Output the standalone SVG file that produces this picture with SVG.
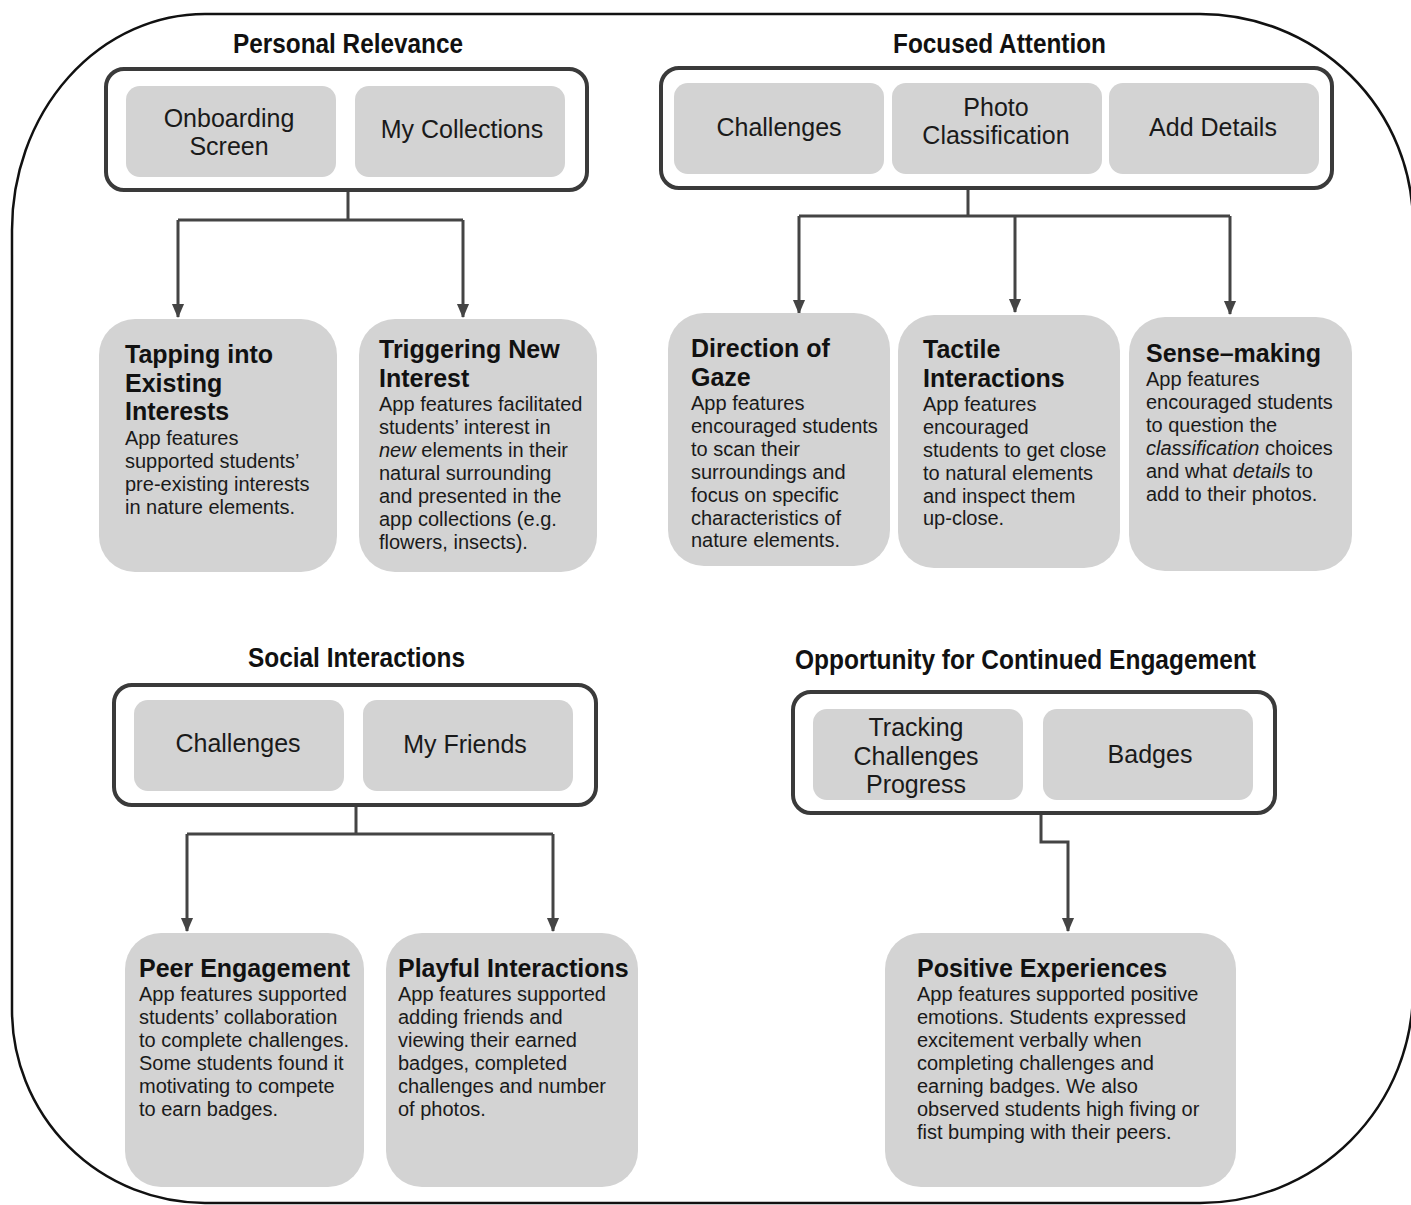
<svg xmlns="http://www.w3.org/2000/svg" width="1411" height="1205" viewBox="0 0 1411 1205">
<style>
.hdr{font-family:"Liberation Sans Narrow","Arial Narrow","Liberation Sans",sans-serif;font-weight:bold;font-size:27px;fill:#111;text-anchor:middle}
.cont{fill:#fff;stroke:#3a3a3a;stroke-width:4}
.feat{fill:#d3d3d3;stroke:none}
.ft{font-family:"Liberation Sans",Arial,sans-serif;font-size:25px;fill:#1a1a1a;text-anchor:middle}
.card{fill:#d3d3d3;stroke:none}
.ct{font-family:"Liberation Sans",Arial,sans-serif;font-size:25px;font-weight:bold;fill:#111}
.cb{font-family:"Liberation Sans",Arial,sans-serif;font-size:20px;fill:#1a1a1a}
.conn{fill:none;stroke:#444;stroke-width:3}
</style>
<defs>
<marker id="ah" markerUnits="userSpaceOnUse" markerWidth="14" markerHeight="16" refX="7" refY="15" orient="auto-start-reverse" viewBox="0 0 14 16">
<path d="M0,0 L14,0 L7,16 Z" fill="#444" transform="rotate(0)"/>
</marker>
<marker id="ad" markerUnits="userSpaceOnUse" markerWidth="14" markerHeight="16" refX="15" refY="7" orient="auto" viewBox="0 0 16 14">
<path d="M0,0 L16,7 L0,14 Z" fill="#444"/>
</marker>
</defs>

<path id="frame" d="M205,14 L1200,14 A213,210 0 0 1 1413,224 L1413,990 A213,213 0 0 1 1200,1203 L205,1203 A193,193 0 0 1 12,1010 L12,230 A193,216 0 0 1 205,14 Z" fill="none" stroke="#111" stroke-width="2.5"/>

<g id="connectors">
<path class="conn" d="M348,190 L348,220 M178,220 L463,220 M178,220 L178,317" marker-end="url(#ad)"/>
<path class="conn" d="M463,220 L463,317" marker-end="url(#ad)"/>
<path class="conn" d="M968,188 L968,216 M799,216 L1230,216 M799,216 L799,313" marker-end="url(#ad)"/>
<path class="conn" d="M1015,216 L1015,312" marker-end="url(#ad)"/>
<path class="conn" d="M1230,216 L1230,314" marker-end="url(#ad)"/>
<path class="conn" d="M356,805 L356,834 M187,834 L553,834 M187,834 L187,931" marker-end="url(#ad)"/>
<path class="conn" d="M553,834 L553,931" marker-end="url(#ad)"/>
<path class="conn" d="M1041,813 L1041,842 L1068,842 L1068,931" marker-end="url(#ad)"/>
</g>

<g id="personal-relevance">
<text class="hdr" x="348" y="53" textLength="230" lengthAdjust="spacingAndGlyphs">Personal Relevance</text>
<rect class="cont" x="106" y="69" width="481" height="121" rx="18"/>
<g id="onboarding-screen"><rect class="feat" x="126" y="86" width="210" height="91" rx="14"/>
<text class="ft" x="229" y="127">Onboarding</text><text class="ft" x="229" y="155">Screen</text></g>
<g id="my-collections"><rect class="feat" x="355" y="86" width="210" height="91" rx="14"/>
<text class="ft" x="462" y="138">My Collections</text></g>
</g>

<g id="tapping">
<rect class="card" x="99" y="319" width="238" height="253" rx="36"/>
<text class="ct" x="125" y="363">Tapping into</text>
<text class="ct" x="125" y="392">Existing</text>
<text class="ct" x="125" y="420">Interests</text>
<text class="cb" x="125" y="445">App features</text>
<text class="cb" x="125" y="468">supported students’</text>
<text class="cb" x="125" y="491">pre-existing interests</text>
<text class="cb" x="125" y="514">in nature elements.</text>
</g>

<g id="triggering">
<rect class="card" x="359" y="319" width="238" height="253" rx="36"/>
<text class="ct" x="379" y="358">Triggering New</text>
<text class="ct" x="379" y="387">Interest</text>
<text class="cb" x="379" y="411">App features facilitated</text>
<text class="cb" x="379" y="434">students’ interest in</text>
<text class="cb" x="379" y="457"><tspan font-style="italic">new</tspan> elements in their</text>
<text class="cb" x="379" y="480">natural surrounding</text>
<text class="cb" x="379" y="503">and presented in the</text>
<text class="cb" x="379" y="526">app collections (e.g.</text>
<text class="cb" x="379" y="549">flowers, insects).</text>
</g>

<g id="focused-attention">
<text class="hdr" x="999.5" y="53" textLength="213" lengthAdjust="spacingAndGlyphs">Focused Attention</text>
<rect class="cont" x="661" y="68" width="671" height="120" rx="18"/>
<g id="fa-challenges"><rect class="feat" x="674" y="83" width="210" height="91" rx="14"/>
<text class="ft" x="779" y="136">Challenges</text></g>
<g id="photo-classification"><rect class="feat" x="892" y="83" width="210" height="91" rx="14"/>
<text class="ft" x="996" y="116">Photo</text><text class="ft" x="996" y="144">Classification</text></g>
<g id="add-details"><rect class="feat" x="1109" y="83" width="210" height="91" rx="14"/>
<text class="ft" x="1213" y="136">Add Details</text></g>
</g>

<g id="direction-of-gaze">
<rect class="card" x="668" y="313" width="222" height="253" rx="36"/>
<text class="ct" x="691" y="357">Direction of</text>
<text class="ct" x="691" y="386">Gaze</text>
<text class="cb" x="691" y="410">App features</text>
<text class="cb" x="691" y="433">encouraged students</text>
<text class="cb" x="691" y="456">to scan their</text>
<text class="cb" x="691" y="479">surroundings and</text>
<text class="cb" x="691" y="502">focus on specific</text>
<text class="cb" x="691" y="525">characteristics of</text>
<text class="cb" x="691" y="547">nature elements.</text>
</g>

<g id="tactile">
<rect class="card" x="898" y="315" width="222" height="253" rx="36"/>
<text class="ct" x="923" y="358">Tactile</text>
<text class="ct" x="923" y="387">Interactions</text>
<text class="cb" x="923" y="411">App features</text>
<text class="cb" x="923" y="434">encouraged</text>
<text class="cb" x="923" y="457">students to get close</text>
<text class="cb" x="923" y="480">to natural elements</text>
<text class="cb" x="923" y="503">and inspect them</text>
<text class="cb" x="923" y="525">up-close.</text>
</g>

<g id="sense-making">
<rect class="card" x="1129" y="317" width="223" height="254" rx="36"/>
<text class="ct" x="1146" y="362">Sense–making</text>
<text class="cb" x="1146" y="386">App features</text>
<text class="cb" x="1146" y="409">encouraged  students</text>
<text class="cb" x="1146" y="432">to question  the</text>
<text class="cb" x="1146" y="455"><tspan font-style="italic">classification</tspan> choices</text>
<text class="cb" x="1146" y="478">and what <tspan font-style="italic">details</tspan> to</text>
<text class="cb" x="1146" y="501">add to their photos.</text>
</g>

<g id="social-interactions">
<text class="hdr" x="356.5" y="667" textLength="217" lengthAdjust="spacingAndGlyphs">Social Interactions</text>
<rect class="cont" x="114" y="685" width="482" height="120" rx="18"/>
<g id="si-challenges"><rect class="feat" x="134" y="700" width="210" height="91" rx="14"/>
<text class="ft" x="238" y="752">Challenges</text></g>
<g id="my-friends"><rect class="feat" x="363" y="700" width="210" height="91" rx="14"/>
<text class="ft" x="465" y="753">My Friends</text></g>
</g>

<g id="peer-engagement">
<rect class="card" x="125" y="933" width="239" height="254" rx="36"/>
<text class="ct" x="139" y="977">Peer Engagement</text>
<text class="cb" x="139" y="1001">App features supported</text>
<text class="cb" x="139" y="1024">students’ collaboration</text>
<text class="cb" x="139" y="1047">to complete challenges.</text>
<text class="cb" x="139" y="1070">Some students found it</text>
<text class="cb" x="139" y="1093">motivating to compete</text>
<text class="cb" x="139" y="1116">to earn badges.</text>
</g>

<g id="playful-interactions">
<rect class="card" x="386" y="933" width="252" height="254" rx="36"/>
<text class="ct" x="398" y="977">Playful Interactions</text>
<text class="cb" x="398" y="1001">App features supported</text>
<text class="cb" x="398" y="1024">adding friends and</text>
<text class="cb" x="398" y="1047">viewing their earned</text>
<text class="cb" x="398" y="1070">badges, completed</text>
<text class="cb" x="398" y="1093">challenges and number</text>
<text class="cb" x="398" y="1116">of photos.</text>
</g>

<g id="continued-engagement">
<text class="hdr" x="1025.5" y="669" textLength="461" lengthAdjust="spacingAndGlyphs">Opportunity for Continued Engagement</text>
<rect class="cont" x="793" y="692" width="482" height="121" rx="18"/>
<g id="tracking-progress"><rect class="feat" x="813" y="709" width="210" height="91" rx="14"/>
<text class="ft" x="916" y="736">Tracking</text><text class="ft" x="916" y="765">Challenges</text><text class="ft" x="916" y="793">Progress</text></g>
<g id="badges"><rect class="feat" x="1043" y="709" width="210" height="91" rx="14"/>
<text class="ft" x="1150" y="763">Badges</text></g>
</g>

<g id="positive-experiences">
<rect class="card" x="885" y="933" width="351" height="254" rx="36"/>
<text class="ct" x="917" y="977">Positive Experiences</text>
<text class="cb" x="917" y="1001">App features supported positive</text>
<text class="cb" x="917" y="1024">emotions. Students expressed</text>
<text class="cb" x="917" y="1047">excitement verbally when</text>
<text class="cb" x="917" y="1070">completing challenges and</text>
<text class="cb" x="917" y="1093">earning badges. We also</text>
<text class="cb" x="917" y="1116">observed students high fiving or</text>
<text class="cb" x="917" y="1139">fist bumping with their peers.</text>
</g>
</svg>
